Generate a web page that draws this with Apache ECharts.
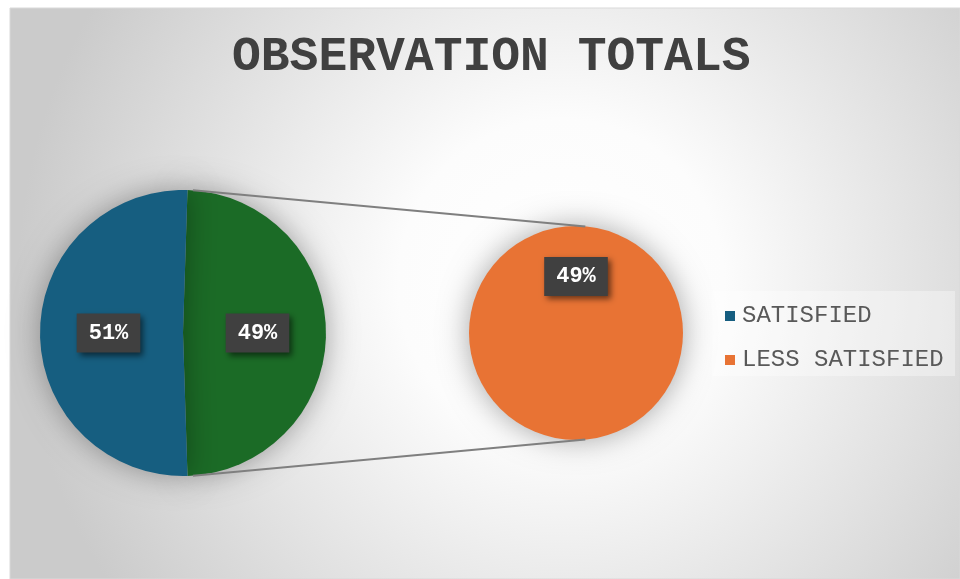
<!DOCTYPE html>
<html>
<head>
<meta charset="utf-8">
<script src="https://cdn.jsdelivr.net/npm/echarts@6/dist/echarts.min.js"></script>
<style>
html,body{margin:0;padding:0;background:#fff;}
#c{width:960px;height:579px;}
</style>
</head>
<body>
<div id="c"></div>
<script>
const titleText = 'OBSERVATION TOTALS';
const legendNames = ['SATISFIED', 'LESS SATISFIED'];
const mainNames = ['OTHER', 'SATISFIED'];
const mainValues = [49, 51];
const secondNames = ['LESS SATISFIED'];
const secondValues = [49];
const colors = { 'SATISFIED': '#165E80', 'OTHER': '#1B6B26', 'LESS SATISFIED': '#E87334' };

const total = mainValues.reduce((a, b) => a + b, 0);
const otherShare = mainValues[0] / total;

const mainC = [183, 333], mainR = 143;
const secC = [576, 333], secR = 107;

const labelStyle = {
  show: true,
  position: 'inside',
  formatter: p => Math.round(p.value / total * 100) + '%',
  color: '#fff',
  fontFamily: 'Liberation Mono',
  fontWeight: 'bold',
  fontSize: 22,
  lineHeight: 22,
  backgroundColor: '#404040',
  padding: [9, 12, 8, 12],
  shadowBlur: 6,
  shadowColor: 'rgba(0,0,0,0.55)',
  shadowOffsetX: 3,
  shadowOffsetY: 3
};

// connector line end points derived from pie geometry
const a1 = 86 * Math.PI / 180, a2 = 85 * Math.PI / 180;
const p1 = [mainC[0] + mainR * Math.cos(a1), mainC[1] - mainR * Math.sin(a1)];
const p2 = [secC[0] + secR * Math.cos(a2), secC[1] - secR * Math.sin(a2)];
const q1 = [p1[0], 2 * mainC[1] - p1[1]];
const q2 = [p2[0], 2 * secC[1] - p2[1]];

const chart = echarts.init(document.getElementById('c'));
chart.setOption({
  animation: false,
  graphic: [
    {
      type: 'rect', z: -10, silent: true,
      shape: { x: 10, y: 8, width: 950, height: 571 },
      style: {
        fill: { type: 'radial', x: 0.58, y: 0.48, r: 0.95,
          colorStops: [{ offset: 0, color: '#ffffff' }, { offset: 0.3, color: '#fcfcfc' }, { offset: 1, color: '#cbcbcb' }] },
        stroke: '#d9d9d9', lineWidth: 1
      }
    },
    {
      type: 'rect', z: -5, silent: true,
      shape: { x: 712, y: 291, width: 243, height: 85 },
      style: { fill: 'rgba(255,255,255,0.35)' }
    },
    { type: 'line', z: 5, silent: true, shape: { x1: p1[0], y1: p1[1], x2: p2[0], y2: p2[1] }, style: { stroke: '#7f7f7f', lineWidth: 2 } },
    { type: 'line', z: 5, silent: true, shape: { x1: q1[0], y1: q1[1], x2: q2[0], y2: q2[1] }, style: { stroke: '#7f7f7f', lineWidth: 2 } }
  ],
  title: {
    text: titleText,
    left: 227,
    top: 29,
    textStyle: { fontFamily: 'Liberation Mono', fontWeight: 'bold', fontSize: 48, color: '#404040' }
  },
  legend: {
    data: legendNames,
    orient: 'vertical',
    left: 720,
    top: 299,
    itemWidth: 10,
    itemHeight: 10,
    itemGap: 20,
    icon: 'rect',
    textStyle: { fontFamily: 'Liberation Mono', fontSize: 24, lineHeight: 23, color: '#595959', padding: [0, 0, 0, 2] }
  },
  series: [
    {
      type: 'pie',
      center: mainC,
      radius: mainR,
      startAngle: 90 - (90 - otherShare * 180),
      clockwise: true,
      label: labelStyle,
      labelLine: { show: false },
      itemStyle: { shadowBlur: 30, shadowColor: 'rgba(0,0,0,0.35)' },
      emphasis: { disabled: true },
      data: mainNames.map((n, i) => ({ name: n, value: mainValues[i], itemStyle: { color: colors[n] } }))
    },
    {
      type: 'pie',
      center: secC,
      radius: secR,
      startAngle: 270,
      clockwise: true,
      label: labelStyle,
      labelLine: { show: false },
      itemStyle: { shadowBlur: 30, shadowColor: 'rgba(0,0,0,0.35)' },
      emphasis: { disabled: true },
      data: secondNames.map((n, i) => ({ name: n, value: secondValues[i], itemStyle: { color: colors[n] } }))
    }
  ]
});
</script>
</body>
</html>
